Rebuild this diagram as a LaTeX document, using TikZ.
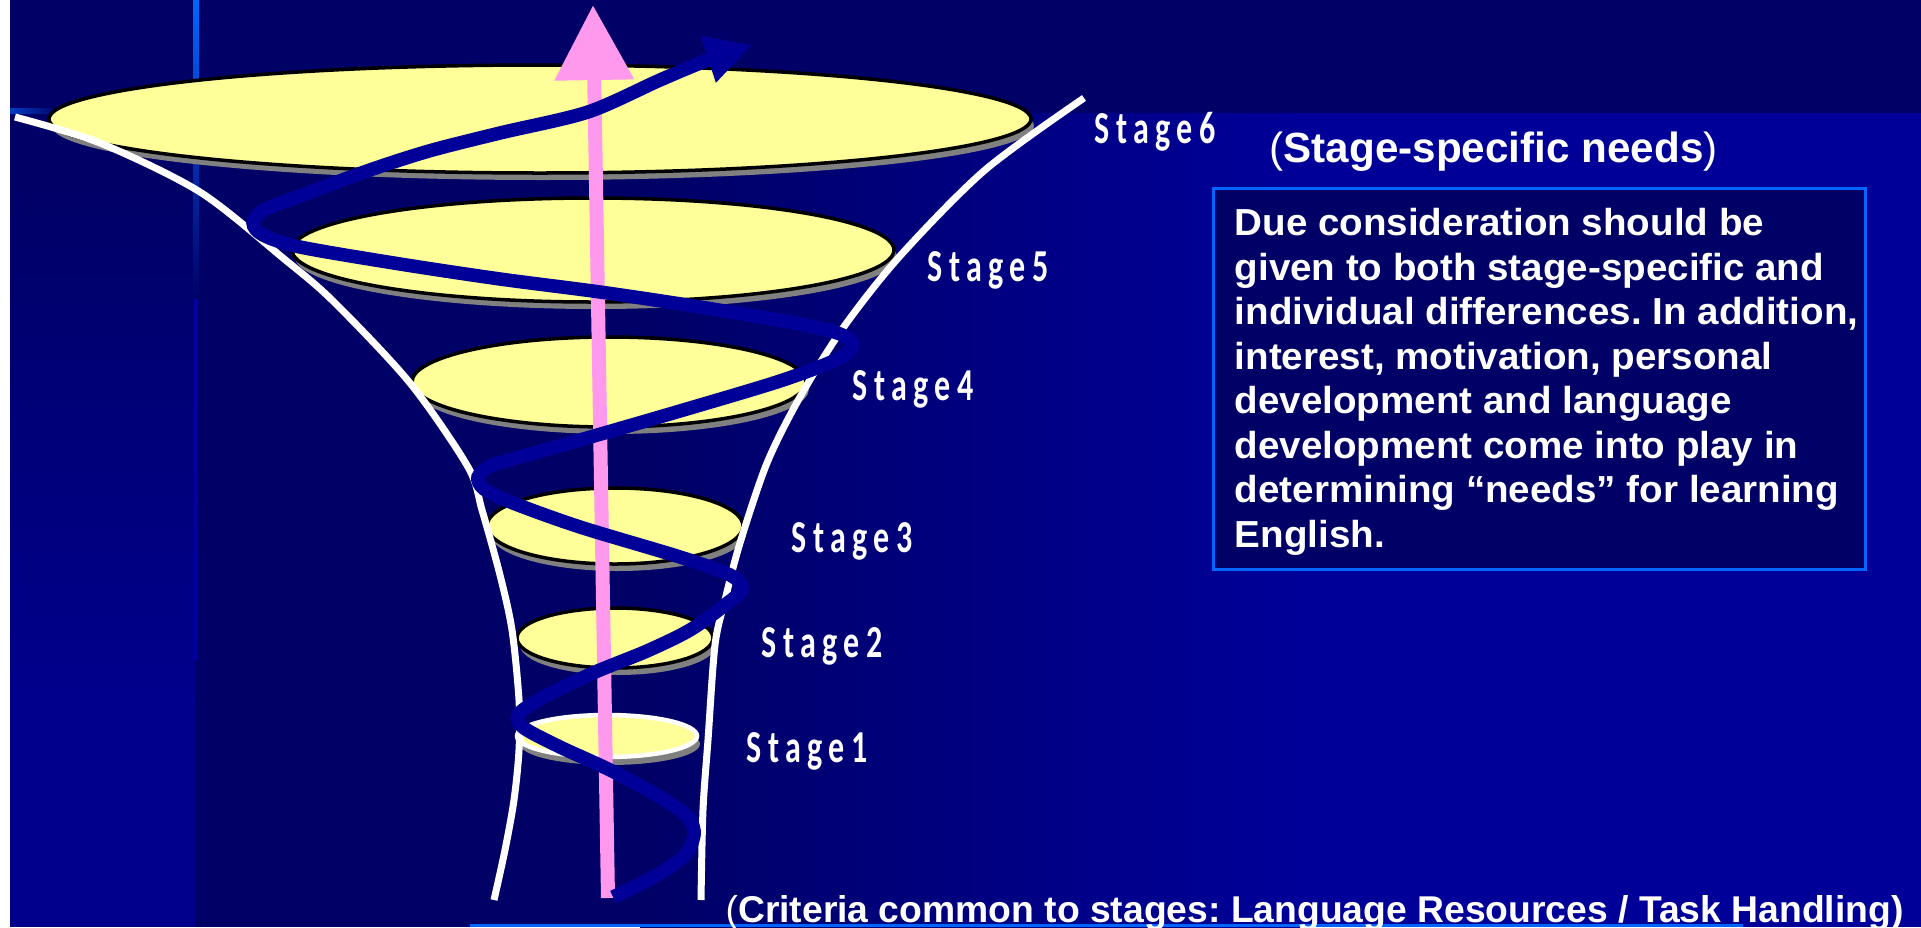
\documentclass[tikz,border=0pt]{standalone}
\usepackage{fontspec}
\setmainfont{Liberation Sans}
\newfontfamily\stagefont[FakeStretch=0.7,LetterSpace=14]{Carlito}
\newfontfamily\boxfont[FakeStretch=1.025,Ligatures=TeX]{Liberation Sans}
\usepackage{tikz}
\usetikzlibrary{arrows.meta}
\definecolor{slidenavy}{RGB}{0,0,102}
\definecolor{slideblue}{RGB}{0,0,153}
\definecolor{stripblue}{RGB}{0,0,140}
\definecolor{rimblue}{RGB}{0,102,255}
\definecolor{discyellow}{RGB}{255,255,153}
\definecolor{discshadow}{RGB}{128,128,128}
\definecolor{axispink}{RGB}{255,153,238}
\definecolor{spiralblue}{RGB}{0,0,153}
\tikzset{
  stagedisc/.style={fill=discyellow, draw=black, line width=0.035cm},
  discshade/.style={fill=discshadow},
  funnelwall/.style={draw=white, line width=0.07cm},
  axisarrow/.style={draw=axispink, line width=0.14cm, -{Triangle[length=0.75cm, width=0.76cm]}},
  spiralpath/.style={draw=spiralblue, line width=0.135cm, -{Triangle[length=0.46cm, width=0.46cm]}},
  stagelabel/.style={text=white, inner sep=0pt, font=\stagefont\bfseries\fontsize{13}{15}\selectfont},
  headtext/.style={text=white, inner sep=0pt, font=\bfseries\fontsize{12}{14}\selectfont},
  needsbox/.style={draw=rimblue, line width=0.03cm, fill=slidenavy, minimum width=6.52cm, minimum height=3.81cm, inner sep=0pt},
  needstext/.style={text=white, inner sep=0pt, align=left, font=\boxfont\bfseries\fontsize{10.7}{12.65}\selectfont},
}
\frenchspacing

\begin{document}
\begin{tikzpicture}[x=0.01cm, y=-0.01cm]
  \useasboundingbox (0,0) rectangle (1921,927);
  \fill[white] (0,0) rectangle (1921,927);
  \fill[slideblue] (10,0) rectangle (1921,927);
  \fill[slidenavy] (196,113) rectangle (641,927);
  \shade[left color=slidenavy, right color=slideblue] (640,113) rectangle (1300,927);
  \shade[top color=slidenavy, bottom color=stripblue] (10,170) rectangle (196,700);
  \fill[stripblue] (10,699) rectangle (196,927);
  \fill[slidenavy] (10,0) rectangle (1921,113);
  \fill[slidenavy] (10,112) rectangle (196,170);
  \shade[left color=rimblue!60!slidenavy, right color=slidenavy] (10,108) rectangle (60,113);
  \shade[top color=rimblue, bottom color=slidenavy] (193,0) rectangle (199,300);
  \fill[blue!40!slidenavy] (194,299) rectangle (198,660);

  \fill[discshade] (543,126) ellipse [x radius=491, y radius=54];
  \draw[stagedisc] (540,119) ellipse [x radius=491, y radius=54];
  \fill[discshade] (596,257) ellipse [x radius=301, y radius=52];
  \draw[stagedisc] (593,250) ellipse [x radius=301, y radius=52];
  \fill[discshade] (612,389) ellipse [x radius=197, y radius=45];
  \draw[stagedisc] (609,382) ellipse [x radius=197, y radius=45];
  \fill[discshade] (618,533) ellipse [x radius=128, y radius=38];
  \draw[stagedisc] (615,526) ellipse [x radius=128, y radius=38];
  \fill[discshade] (618,645) ellipse [x radius=98, y radius=30];
  \draw[stagedisc] (615,638) ellipse [x radius=98, y radius=30];
  \fill[discshade] (610,744) ellipse [x radius=90, y radius=21];
  \draw[stagedisc, draw=white, line width=0.045cm] (607,736) ellipse [x radius=90, y radius=21];

  \draw[funnelwall] plot[smooth] coordinates {(15,117) (100,143) (200,192) (283,258) (333,301)
    (410,383) (468,467) (482,510) (500,575) (512,630) (519,700) (519,750) (514,800) (505,850) (494,900)};
  \draw[funnelwall] plot[smooth] coordinates {(1084,98) (985,170) (900,256) (843,328) (800,397)
    (767,463) (740,543) (725,600) (715,645) (708,740) (703,810) (701,900)};

  \coordinate (axisfoot) at (608,898);
  \coordinate (axistip) at (593,5);
  \draw[axisarrow] (axisfoot) -- (axistip);

  \draw[spiralpath] plot[smooth] coordinates {(613,897) (650,879) (683,857) (694,835) (688,817)
    (660,797) (610,770) (560,747) (524,728) (518,715) (540,699) (593,673) (647,651) (690,630)
    (725,605) (742,589) (730,575) (680,557) (580,527) (513,503) (484,489) (478,477) (490,466)
    (513,459) (580,440) (680,411) (780,381) (838,359) (853,345) (840,334) (800,324) (700,307)
    (600,292) (500,279) (400,264) (300,247) (263,235) (253,223) (264,210) (300,196) (367,171)
    (429,151) (500,133) (588,112) (660,80) (708,60) (752,45)};

  \node[stagelabel, anchor=base west] (stage6) at (1094,143) {Stage6};
  \node[stagelabel, anchor=base west] (stage5) at (927,281) {Stage5};
  \node[stagelabel, anchor=base west] (stage4) at (852,400) {Stage4};
  \node[stagelabel, anchor=base west] (stage3) at (791,552) {Stage3};
  \node[stagelabel, anchor=base west] (stage2) at (761,657) {Stage2};
  \node[stagelabel, anchor=base west] (stage1) at (746,762) {Stage1};

  \node[headtext, anchor=base west] (needshead) at (1269,162)
    {\mdseries(\bfseries Stage-specific needs\mdseries)};
  \node[needsbox, anchor=north west] (needsbox) at (1212,187) {};
  \node[needstext, anchor=north west] (needstext) at (1234,208)
    {Due consideration should be\\
     given to both stage-specific and\\
     individual differences. In addition,\\
     interest, motivation, personal\\
     development and language\\
     development come into play in\\
     determining “needs” for learning\\
     English.};

  \draw[rimblue, line width=0.03cm] (470,925.5) -- (1743,925.5);
  \node[headtext, font=\bfseries\fontsize{10.6}{12}\selectfont, anchor=base west] (criteria) at (725,922)
    {\mdseries(\bfseries Criteria common to stages: Language Resources / Task Handling)};
\end{tikzpicture}
\end{document}
